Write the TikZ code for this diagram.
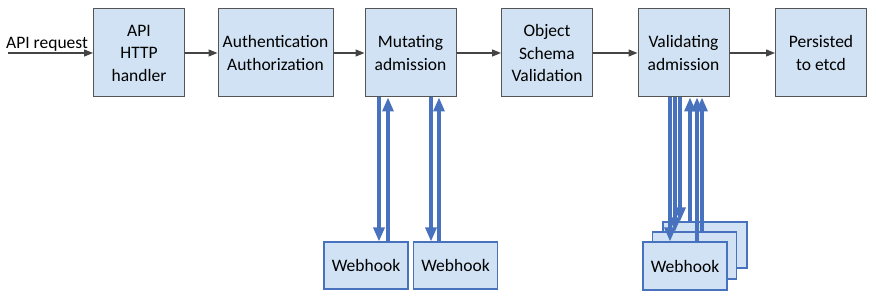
\documentclass[tikz,border=0pt]{standalone}
\usepackage{fontspec}
\setmainfont{Carlito}
\usetikzlibrary{arrows.meta}

\definecolor{boxfill}{RGB}{208,226,243}
\definecolor{boxline}{RGB}{85,85,85}
\definecolor{hookblue}{RGB}{72,114,190}

\tikzset{
  stage/.style={draw=boxline, line width=1pt, fill=boxfill, minimum height=88pt,
    minimum width=91pt, align=center, inner sep=2pt, font=\fontsize{17.5}{22.5}\selectfont},
  webhook/.style={draw=hookblue, line width=1.1pt, fill=boxfill, minimum width=84pt,
    minimum height=47pt, font=\fontsize{17.5}{22.5}\selectfont},
  flow/.style={draw=boxline!80!black, line width=1.3pt, -{Triangle[length=9pt,width=7pt]}},
  callarrow/.style={draw=hookblue, line width=3.2pt, -{Triangle[length=14pt,width=11pt]}}
}

\begin{document}
\begin{tikzpicture}[x=1pt,y=-1pt]

  \useasboundingbox (0,0) rectangle (876,299);

  % request path
  \node[stage] (http) at (139,53) {API\\HTTP\\handler};
  \node[stage, minimum width=115pt] (auth) at (275.5,53) {Authentication\\Authorization};
  \node[stage] (mut) at (410.5,53) {Mutating\\admission};
  \node[stage] (schema) at (547,53) {Object\\Schema\\Validation};
  \node[stage] (val) at (683.5,53) {Validating\\admission};
  \node[stage] (etcd) at (821,53) {Persisted\\to etcd};

  % incoming request
  \coordinate (req) at (8,53);
  \node[anchor=base west, inner sep=0pt, font=\fontsize{17.5}{22.5}\selectfont] (reqlabel) at (6,49) {API request};
  \draw[flow] (req) -- (http);

  \draw[flow] (http) -- (auth);
  \draw[flow] (auth) -- (mut);
  \draw[flow] (mut) -- (schema);
  \draw[flow] (schema) -- (val);
  \draw[flow] (val) -- (etcd);

  % mutating webhooks
  \node[webhook] (wh1) at (366,265.5) {Webhook};
  \node[webhook] (wh2) at (455.5,265.5) {Webhook};

  \draw[callarrow] ([xshift=-31.5pt]mut.south) -- ([xshift=-31.5pt]mut.south |- wh1.north);
  \draw[callarrow] ([xshift=-22.5pt]wh1.north -| mut.south) -- ([xshift=-22.5pt]mut.south);
  \draw[callarrow] ([xshift=20.5pt]mut.south) -- ([xshift=20.5pt]mut.south |- wh2.north);
  \draw[callarrow] ([xshift=28.5pt]wh2.north -| mut.south) -- ([xshift=28.5pt]mut.south);

  % validating webhooks, stacked
  \node[webhook, minimum height=46pt] (whc) at (705,245) {};
  \node[webhook, minimum height=47pt] (whb) at (694.5,255.5) {};
  \node[webhook, minimum height=48pt] (wha) at (685,266) {Webhook};

  \foreach \dx/\target in {-13.5/wha, -8.5/whb, -3.5/whc}
    \draw[callarrow] ([xshift=\dx pt]val.south) -- ([xshift=\dx pt]val.south |- \target.north);
  \foreach \dx/\target in {6.5/whc, 13.5/wha, 18.5/whb}
    \draw[callarrow] ([xshift=\dx pt]val.south |- \target.north) -- ([xshift=\dx pt]val.south);

\end{tikzpicture}
\end{document}
